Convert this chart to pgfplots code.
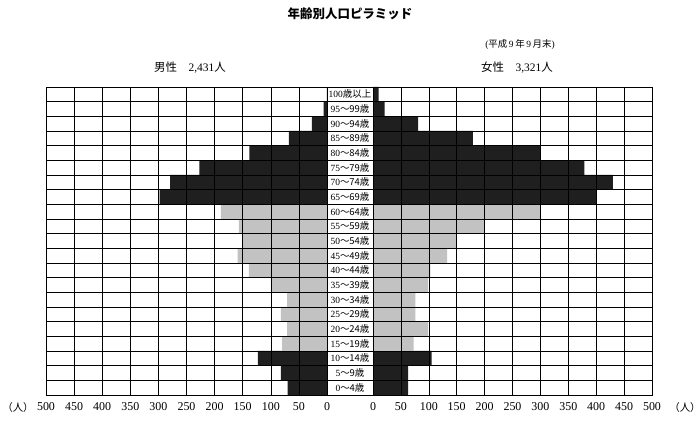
\documentclass[border=0pt]{standalone}
\usepackage{fontspec}
\setmainfont{Liberation Serif}
\newfontfamily\cjk{Noto Sans CJK JP}
\usepackage{pgfplots}
\usepackage{pgfplotstable}
\pgfplotsset{compat=1.18}

\definecolor{darkbar}{gray}{0.12}
\definecolor{lightbar}{gray}{0.76}

% age class index (0 = 0-4 ... 20 = 100+), persons
\pgfplotstableread{
age male female
0   70   63
1   82   63
2   123  105
3   80   73
4   71   99
5   82   76
6   71   76
7   100  99
8   139  103
9   159  133
10  150  149
11  157  200
12  189  299
13  298  400
14  279  430
15  227  379
16  138  299
17  68   179
18  27   81
19  6    21
20  0    10
}\pyramid

\pgfplotsset{
  pyr/.style={
    scale only axis, height=308bp,
    xbar, bar width=1, bar shift=0,
    xmin=0, xmax=500, ymin=-0.5, ymax=20.5,
    xtick={0,50,...,500},
    xmajorgrids,
    ytick={0,...,20}, yticklabels={},
    minor ytick={-0.5,0.5,...,20.5}, yminorgrids,
    major tick length=0, minor tick length=0,
    grid style={black, line width=0.5bp},
    minor grid style={black, line width=0.5bp},
    axis line style={black, line width=0.8bp},
    axis on top,
    /pgf/number format/assume math mode=true,
    tick label style={font=\fontsize{12}{13}\selectfont},
    xticklabel style={yshift=-4bp},
  },
  lbar/.style={fill=lightbar, draw=none},
  dbar/.style={fill=darkbar, draw=none},
}

\begin{document}
\begin{tikzpicture}
\useasboundingbox (0,0) rectangle (700bp,422bp);

% male
\begin{axis}[pyr, name=left, width=281bp, x dir=reverse,
  at={(46bp,27bp)}, anchor=south west]
  \addplot[dbar, restrict y to domain=0:2] table[x=male, y=age] {\pyramid};
  \addplot[lbar, restrict y to domain=3:12] table[x=male, y=age] {\pyramid};
  \addplot[dbar, restrict y to domain=13:20] table[x=male, y=age] {\pyramid};
\end{axis}

% age labels
\begin{axis}[scale only axis, width=46bp, height=308bp,
  at={(327bp,27bp)}, anchor=south west,
  xmin=0, xmax=1, ymin=-0.5, ymax=20.5, xtick=\empty,
  ytick={0,...,20},
  yticklabels={
    0\cjk ～4歳, 5\cjk ～9歳, 10\cjk ～14歳, 15\cjk ～19歳, 20\cjk ～24歳,
    25\cjk ～29歳, 30\cjk ～34歳, 35\cjk ～39歳, 40\cjk ～44歳, 45\cjk ～49歳,
    50\cjk ～54歳, 55\cjk ～59歳, 60\cjk ～64歳, 65\cjk ～69歳, 70\cjk ～74歳,
    75\cjk ～79歳, 80\cjk ～84歳, 85\cjk ～89歳, 90\cjk ～94歳, 95\cjk ～99歳,
    100\cjk 歳以上},
  yticklabel style={anchor=center, xshift=23bp, inner sep=0pt,
    font=\fontsize{9.5}{10}\selectfont},
  minor ytick={-0.5,0.5,...,20.5}, yminorgrids,
  major tick length=0, minor tick length=0,
  minor grid style={black, line width=0.5bp},
  axis line style={black, line width=0.8bp}]
\end{axis}

% female
\begin{axis}[pyr, name=right, width=279bp,
  at={(373bp,27bp)}, anchor=south west]
  \addplot[dbar, restrict y to domain=0:2] table[x=female, y=age] {\pyramid};
  \addplot[lbar, restrict y to domain=3:12] table[x=female, y=age] {\pyramid};
  \addplot[dbar, restrict y to domain=13:20] table[x=female, y=age] {\pyramid};
\end{axis}

\node[font=\cjk\bfseries\fontsize{12.5}{14}\selectfont] at (350bp,408bp) {年齢別人口ピラミッド};
\node[font=\fontsize{9.5}{10}\selectfont] at (520bp,377bp) {({\cjk 平成}\,9\,{\cjk 年}\,9\,{\cjk 月末})};
\node[font=\fontsize{11.5}{12}\selectfont] at (190bp,354bp) {{\cjk 男性}\quad 2,431{\cjk 人}};
\node[font=\fontsize{11.5}{12}\selectfont] at (517bp,354bp) {{\cjk 女性}\quad 3,321{\cjk 人}};
\node[font=\cjk\fontsize{10.5}{12}\selectfont] at (18bp,14bp) {（人）};
\node[font=\cjk\fontsize{10.5}{12}\selectfont] at (685bp,14bp) {（人）};
\end{tikzpicture}
\end{document}
